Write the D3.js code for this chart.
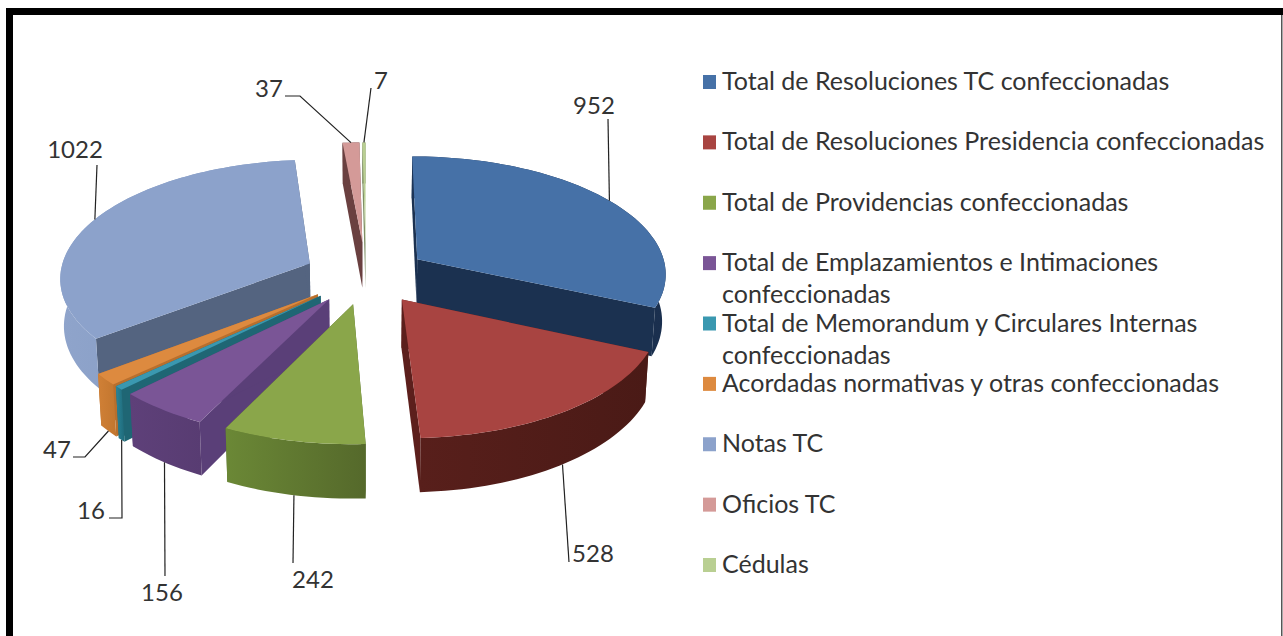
<!DOCTYPE html>
<html>
<head>
<meta charset="utf-8">
<script src="https://cdn.jsdelivr.net/npm/d3@7"></script>
<style>
  html, body { margin: 0; padding: 0; background: #fff; }
  text { font-family: Lato, "Open Sans", sans-serif; fill: #333; }
</style>
</head>
<body>
<div id="chart"></div>
<script>
// Data
const categories = [
  'Total de Resoluciones TC confeccionadas',
  'Total de Resoluciones Presidencia confeccionadas',
  'Total de Providencias confeccionadas',
  'Total de Emplazamientos e Intimaciones\nconfeccionadas',
  'Total de Memorandum y Circulares Internas\nconfeccionadas',
  'Acordadas normativas y otras confeccionadas',
  'Notas TC',
  'Oficios TC',
  'Cédulas'
];
const values = [952, 528, 242, 156, 16, 47, 1022, 37, 7];

// Colours per slice
const topColors = ['#4671a7', '#a84441', '#8aa64a', '#7a5596', '#3a98b0', '#dd8a3f', '#8ca2cb', '#d49a98', '#b9cf92'];
const cutColors = ['#1b3150', '#5c1f1c', '#4f6527', '#5a3f78', '#1f6674', '#b86f2d', '#546480', '#6a4040', '#7f8f66'];
const wallStart = ['#1d3557', '#581f1b', '#6b8836', '#5e4079', '#2b8598', '#d08036', '#8fa4cb', '#6a4040', '#7f8f66'];
const wallEnd = ['#1a2f4e', '#4a1a16', '#55692b', '#583c72', '#1f6a7a', '#c2762f', '#7e95bd', '#6a4040', '#7f8f66'];

// Label spots and the bends of the leader lines
const labelSpots = [[594, 114], [593, 562], [313, 588], [162, 601], [91, 519], [57, 458], [75, 158], [269, 97], [381, 89]];
const leaderBends = [
  [[608, 119]],
  [[569, 562]],
  [[293, 563]],
  [[165, 576]],
  [[122, 518], [109, 518]],
  [[85, 457], [73, 457]],
  [[97, 165]],
  [[300, 96], [285, 96]],
  [[371, 88]]
];

const width = 1283;
const height = 636;

// Pie geometry (3D pie flattened with a bit of perspective)
const cx = 366;
const cy = 275;
const radius = 250;
const depth = 47;
const tilt = 0.47;
const perspective = 0.11;
const sink = 0.012;
const explode = [62, 62, 62, 62, 62, 62, 62, 72, 72];

const svg = d3.select('#chart')
  .append('svg')
  .attr('width', width)
  .attr('height', height)
  .style('display', 'block');

const defs = svg.append('defs');

// Frame of the screenshot
svg.append('rect').attr('x', 6).attr('y', 8).attr('width', width - 6).attr('height', 7).attr('fill', '#000');
svg.append('rect').attr('x', 6).attr('y', 8).attr('width', 7).attr('height', height - 8).attr('fill', '#000');
svg.append('rect').attr('x', 1281).attr('y', 15).attr('width', 1.5).attr('height', height - 15).attr('fill', '#555');

const pie = d3.pie().sort(null).value(d => d);
const slices = pie(values).map((d, i) => ({ ...d, i, mid: (d.startAngle + d.endAngle) / 2 }));

// Project a point of slice d: r is the share of the radius, z the drop below the top face
function project(d, angle, r, z) {
  const e = explode[d.i];
  const px = e * Math.sin(d.mid) + r * radius * Math.sin(angle);
  const py = e * Math.cos(d.mid) + r * radius * Math.cos(angle);
  const s = 1 / (1 + perspective * py / radius);
  const shrink = 1 - sink * z / depth;
  return [cx + px * s * shrink, cy - py * tilt * s + z * s];
}

const line = d3.line();

function arcPoints(d, z) {
  const steps = Math.max(2, Math.ceil((d.endAngle - d.startAngle) / 0.03));
  return d3.range(steps + 1).map(k => {
    const a = d.startAngle + (d.endAngle - d.startAngle) * k / steps;
    return project(d, a, 1, z);
  });
}

function cutPoints(d, angle) {
  return [
    project(d, angle, 0, 0),
    project(d, angle, 1, 0),
    project(d, angle, 1, depth),
    project(d, angle, 0, depth)
  ];
}

slices.forEach(d => {
  const grad = defs.append('linearGradient').attr('id', `wall-${d.i}`);
  grad.append('stop').attr('offset', '0%').attr('stop-color', wallStart[d.i]);
  grad.append('stop').attr('offset', '100%').attr('stop-color', wallEnd[d.i]);
});

// Draw from the back to the front
const order = slices.slice().sort((a, b) => d3.descending(Math.cos(a.mid), Math.cos(b.mid)));

const groups = svg.append('g')
  .selectAll('g')
  .data(order)
  .enter()
  .append('g');

// Cut faces of the wedge
groups.append('path')
  .attr('d', d => line(cutPoints(d, d.startAngle)) + 'Z')
  .attr('fill', d => cutColors[d.i]);

groups.append('path')
  .attr('d', d => line(cutPoints(d, d.endAngle)) + 'Z')
  .attr('fill', d => cutColors[d.i]);

// Outer wall
groups.append('path')
  .attr('d', d => line(arcPoints(d, 0).concat(arcPoints(d, depth).reverse())) + 'Z')
  .attr('fill', d => `url(#wall-${d.i})`);

// Top face
groups.append('path')
  .attr('d', d => line([project(d, d.startAngle, 0, 0)].concat(arcPoints(d, 0))) + 'Z')
  .attr('fill', d => topColors[d.i]);

// Leader lines start on the rim of each slice
function leaderStart(d) {
  return project(d, d.mid, 1, Math.cos(d.mid) > 0 ? 0 : depth);
}

svg.append('g')
  .selectAll('path')
  .data(slices)
  .enter()
  .append('path')
  .attr('d', d => line([leaderStart(d)].concat(leaderBends[d.i])))
  .attr('fill', 'none')
  .attr('stroke', '#222')
  .attr('stroke-width', 1.2);

// Value labels
svg.append('g')
  .selectAll('text')
  .data(slices)
  .enter()
  .append('text')
  .attr('x', d => labelSpots[d.i][0])
  .attr('y', d => labelSpots[d.i][1])
  .attr('text-anchor', 'middle')
  .attr('font-size', 24)
  .text(d => d.value);

// Legend
const legendY = d3.scalePoint()
  .domain(categories)
  .range([82, 565]);

const legend = svg.append('g')
  .selectAll('g')
  .data(categories)
  .enter()
  .append('g')
  .attr('transform', d => `translate(703,${legendY(d)})`);

legend.append('rect')
  .attr('y', -7)
  .attr('width', 13)
  .attr('height', 14)
  .attr('fill', (d, i) => topColors[i]);

legend.each(function (d) {
  const g = d3.select(this);
  d.split('\n').forEach((txt, k) => {
    g.append('text')
      .attr('x', 19)
      .attr('y', 8 + k * 32)
      .attr('font-size', 25)
      .text(txt);
  });
});
</script>
</body>
</html>
